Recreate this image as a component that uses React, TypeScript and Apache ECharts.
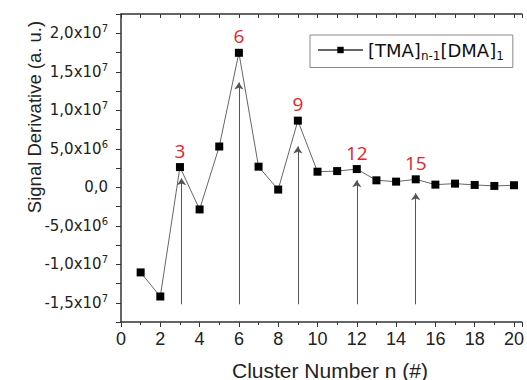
import React, { useEffect, useRef } from "react";
import * as echarts from "echarts";

const clusterN = [1, 2, 3, 4, 5, 6, 7, 8, 9, 10, 11, 12, 13, 14, 15, 16, 17, 18, 19, 20];
const signal = [
  -1.106e7, -1.419e7, 2.62e6, -2.88e6, 5.29e6, 1.746e7, 2.67e6, -0.3e6, 8.65e6, 2.02e6,
  2.1e6, 2.36e6, 0.9e6, 0.73e6, 1.03e6, 0.34e6, 0.47e6, 0.3e6, 0.17e6, 0.26e6,
];
const peakN = [3, 6, 9, 12, 15];
const arrowX = [3.08, 6, 9, 12, 15];
const arrowTip = [1.16e6, 1.36e7, 5.3e6, 0.9e6, -0.77e6];
const arrowBase = -1.52e7;
const xTicks = [0, 2, 4, 6, 8, 10, 12, 14, 16, 18, 20];
const yTicks = [-1.5e7, -1e7, -5e6, 0, 5e6, 1e7, 1.5e7, 2e7];

const FONT = "Liberation Sans";
const WIDE = "DejaVu Sans";

function fmtY(v: number): string {
  if (!yTicks.some((t) => Math.abs(t - v) < 1)) return "";
  if (Math.abs(v) < 1) return "{b|0,0}";
  const exp = Math.floor(Math.log10(Math.abs(v)));
  const mant = v / Math.pow(10, exp);
  const m = mant.toFixed(1).replace(".", ",");
  return `{b|${m}x10}{s|${exp}}`;
}

export default function App() {
  const ref = useRef<HTMLDivElement>(null);
  useEffect(() => {
    if (!ref.current) return;
    const chart = echarts.init(ref.current, null, { renderer: "svg" });
    const data = clusterN.map((n, i) => {
      const item: any = { value: [n, signal[i]] };
      if (peakN.includes(n)) {
        item.label = {
          show: true,
          position: "top",
          distance: 3,
          formatter: String(n),
          color: "#e5232b",
          fontSize: 19,
          fontFamily: "Open Sans",
        };
      }
      return item;
    });
    const arrows = arrowX.map((x, i) => [
      { coord: [x, arrowBase] },
      { coord: [x, arrowTip[i]] },
    ]);
    chart.setOption({
      animation: false,
      backgroundColor: "#fff",
      grid: { left: 121, top: 14, right: 0, bottom: 58 },
      legend: {
        show: true,
        left: 310,
        top: 35,
        padding: [6, 9, 6, 7],
        borderColor: "#8a8a8a",
        borderWidth: 1,
        itemWidth: 45,
        itemHeight: 8,
        data: ["s"],
        formatter: "{a|[TMA]}{s|n-1}{a|[DMA]}{s|1}",
        textStyle: {
          rich: {
            a: { fontSize: 18, fontFamily: WIDE, color: "#111", lineHeight: 21 },
            s: { fontSize: 12, fontFamily: WIDE, color: "#111", padding: [11, 0, 0, 0] },
          },
        },
      },
      xAxis: [
        {
          type: "value",
          position: "bottom",
          min: 0,
          max: 20.4,
          interval: 2,
          splitLine: { show: false },
          axisLine: { onZero: false, lineStyle: { color: "#333", width: 1.5 } },
          axisTick: { inside: false, length: 5, lineStyle: { color: "#333" } },
          minorTick: { show: true, splitNumber: 2, length: 3, lineStyle: { color: "#333" } },
          axisLabel: {
            fontSize: 18,
            fontFamily: FONT,
            color: "#222",
            margin: 8,
            formatter: (v: number) => (xTicks.includes(Math.round(v * 1000) / 1000) ? String(v) : ""),
          },
        },
        {
          type: "value",
          position: "top",
          min: 0,
          max: 20.4,
          interval: 1,
          splitLine: { show: false },
          axisLine: { onZero: false, lineStyle: { color: "#333", width: 1.5 } },
          axisTick: { inside: true, length: 4, lineStyle: { color: "#333" } },
          axisLabel: { show: false },
        },
      ],
      yAxis: {
        type: "value",
        min: -1.75e7,
        max: 2.25e7,
        interval: 2.5e6,
        splitLine: { show: false },
        axisLine: { onZero: false, lineStyle: { color: "#333", width: 1.5 } },
        axisTick: { inside: false, length: 5, lineStyle: { color: "#333" } },
        axisLabel: {
          margin: 13,
          formatter: fmtY,
          rich: {
            b: { fontSize: 15, fontFamily: WIDE, color: "#222" },
            s: { fontSize: 10, fontFamily: WIDE, color: "#222", padding: [0, 0, 9, 0] },
          },
        },
      },
      graphic: [
        {
          type: "text",
          x: 34,
          y: 117,
          rotation: Math.PI / 2,
          style: {
            text: "Signal Derivative (a. u.)",
            fontSize: 18.5,
            fontFamily: FONT,
            fill: "#222",
            align: "center",
            verticalAlign: "middle",
          },
        },
        {
          type: "text",
          x: 330,
          y: 370,
          style: {
            text: "Cluster Number n (#)",
            fontSize: 21,
            fontFamily: FONT,
            fill: "#222",
            align: "center",
            verticalAlign: "middle",
          },
        },
      ],
      series: [
        {
          name: "s",
          type: "line",
          data,
          symbol: "rect",
          symbolSize: 8,
          itemStyle: { color: "#000" },
          lineStyle: { color: "#666", width: 1 },
          markLine: {
            silent: true,
            symbol: ["none", "arrow"],
            symbolSize: 7,
            label: { show: false },
            lineStyle: { color: "#555", width: 1, type: "solid" },
            data: arrows,
          },
        },
      ],
    });
    return () => chart.dispose();
  }, []);
  return (
    <div
      ref={ref}
      style={{ position: "fixed", left: 0, top: 0, width: 527, height: 380 }}
    />
  );
}
